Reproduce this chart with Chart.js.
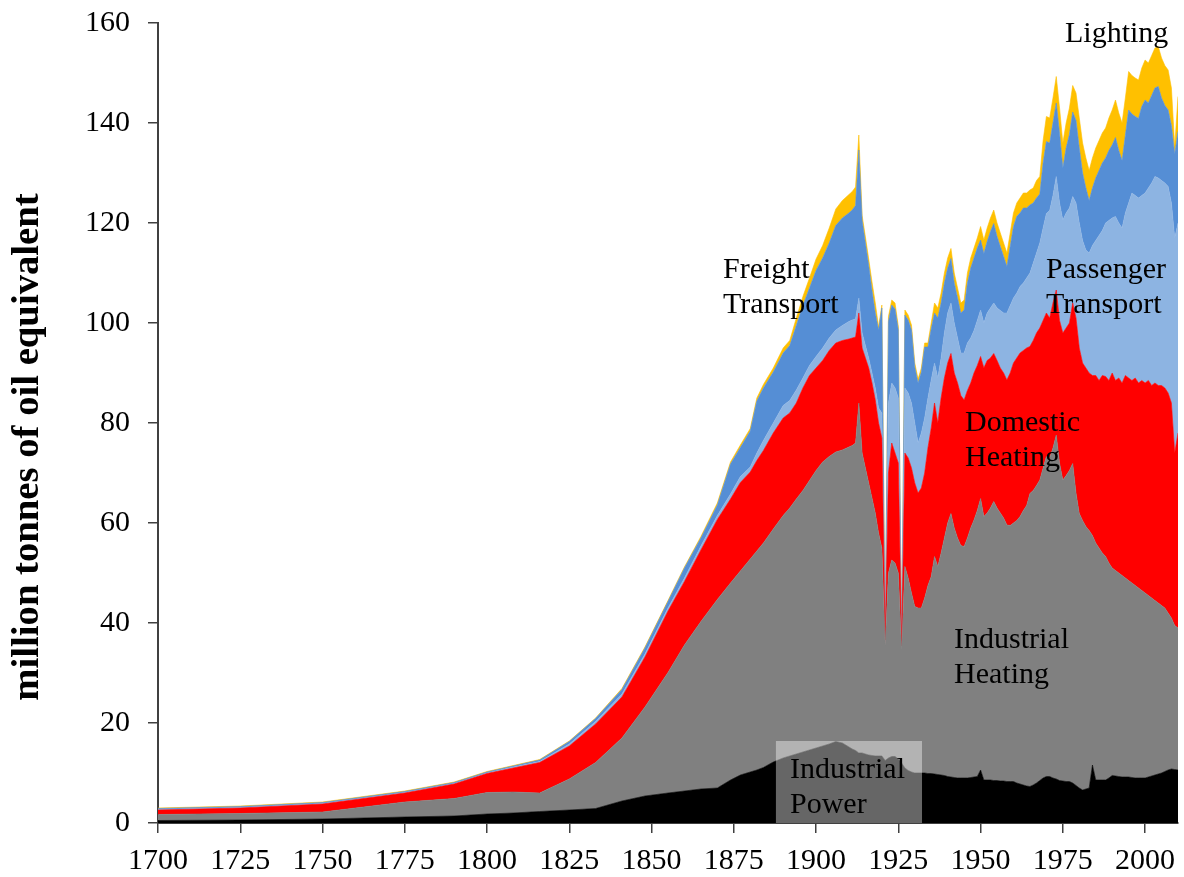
<!DOCTYPE html>
<html><head><meta charset="utf-8">
<script src="https://cdn.jsdelivr.net/npm/chart.js@4.4.1/dist/chart.umd.min.js"></script>
<style>html,body{margin:0;padding:0;background:#fff;}#wrap{width:1184px;height:877px;}</style>
</head><body><div id="wrap"><canvas id="c" width="1184" height="877"></canvas></div>
<script>
const years = [1700,1725,1750,1775,1790,1800,1808,1816,1825,1833,1841,1848,1855,1860,1865,1870,1874,1877,1880,1882,1884,1887,1890,1892,1894,1896,1898,1900,1902,1904,1906,1908,1910,1911,1912,
1913,1914,1915,1916,1917,1918,1919,1920,1921,1922,1923,1924,1925,1926,1927,1928,1929,1930,1931,1932,1933,1934,1935,
1936,1937,1938,1939,1940,1941,1942,1943,1944,1945,1946,1947,1948,1949,1950,1951,1952,1953,1954,1955,1956,1957,1958,1959,1960,
1961,1962,1963,1964,1965,1966,1967,1968,1969,1970,1971,1972,1973,1974,1975,1976,1977,1978,1979,1980,1981,1982,1983,1984,1985,
1986,1987,1988,1989,1990,1991,1992,1993,1994,1995,1996,1997,1998,1999,2000,2001,2002,2003,2004,2005,2006,2007,2008,2009,2010];

const industrialPower = [0.5,0.6,0.8,1.2,1.4,1.8,2.0,2.3,2.6,2.9,4.4,5.4,6.0,6.4,6.8,7.0,8.6,9.6,10.2,10.6,11.1,12.2,13.0,13.4,13.8,14.2,14.6,15.0,15.4,15.8,16.3,16.0,15.2,14.8,14.5,
14.0,14.0,13.8,13.6,13.5,13.4,13.4,13.4,12.5,13.0,13.3,13.3,12.8,12.0,11.0,10.5,10.2,10.0,10.0,10.0,10.0,9.9,9.9,
9.8,9.7,9.6,9.5,9.3,9.2,9.1,9.0,9.0,9.0,9.0,9.1,9.2,9.3,10.6,8.6,8.6,8.6,8.5,8.5,8.4,8.4,8.3,8.3,8.3,
8.0,7.8,7.6,7.4,7.3,7.6,8.0,8.5,9.0,9.3,9.3,9.0,8.8,8.5,8.4,8.3,8.3,8.0,7.5,7.0,6.6,6.8,7.0,11.6,8.6,
8.6,8.6,8.6,9.0,9.5,9.4,9.3,9.2,9.2,9.2,9.1,9.0,9.0,9.0,9.0,9.2,9.4,9.6,9.8,10.0,10.3,10.6,10.8,10.7,10.6];

const industrialHeating = [1.2,1.3,1.4,3.0,3.5,4.3,4.2,3.7,6.2,9.2,12.6,17.8,24.1,29.2,33.5,37.7,39.4,40.8,42.6,43.8,44.9,46.6,48.5,49.6,51.0,52.3,53.9,55.5,56.8,57.5,57.9,58.6,60.0,60.7,61.5,
70.0,60.0,57.2,54.4,51.5,48.6,44.6,41.6,23.0,37.0,39.3,38.7,37.2,22.6,40.3,38.5,35.8,33.3,33.0,33.0,35.0,37.6,39.4,
43.5,41.6,44.4,47.5,50.7,52.7,49.9,48.0,46.5,46.3,48.0,49.9,51.4,53.2,54.3,52.7,53.4,54.4,55.8,54.5,53.6,52.6,51.3,51.2,51.7,
52.5,53.5,54.9,56.1,58.6,58.9,59.5,60.1,62.0,64.0,63.7,66.0,68.8,63.5,60.2,61.2,62.2,63.9,58.5,54.9,53.9,52.5,51.5,45.9,47.4,
46.4,45.4,44.7,43.0,41.5,41.1,40.7,40.3,39.8,39.3,38.9,38.5,38.0,37.5,37.0,36.3,35.6,34.9,34.2,33.5,32.7,31.4,30.2,28.8,28.4];

const domesticHeating = [0.9,1.1,1.6,1.8,2.9,3.8,4.8,6.1,6.6,7.7,8.2,10.0,12.3,12.7,14.3,16.0,16.8,17.7,17.4,18.1,18.5,19.2,19.5,19.0,19.2,20.5,21.0,20.5,20.3,21.2,21.8,21.9,21.6,21.5,21.2,
18.0,21.0,22.0,23.0,23.0,22.6,22.0,22.0,1.1,20.0,23.4,22.0,22.0,0.8,22.7,24.0,25.0,24.7,23.0,24.0,25.0,27.5,29.7,
30.7,28.7,31.0,32.0,32.0,32.0,31.0,31.0,30.0,29.3,29.5,29.0,29.4,29.0,28.4,29.7,30.5,30.0,29.6,29.5,29.0,29.0,29.0,30.5,32.0,
32.5,32.7,32.0,31.5,29.4,30.0,30.5,30.4,29.5,28.7,28.0,29.0,29.0,28.5,29.4,29.5,29.5,32.1,35.0,33.1,31.5,31.7,31.5,32.0,33.5,
33.5,35.5,36.0,36.5,39.0,38.0,39.0,38.5,40.5,40.5,40.5,41.5,41.0,42.0,42.0,43.0,42.5,43.5,43.5,44.0,44.0,44.0,43.0,34.5,39.0];

const passengerTransport = [0.1,0.1,0.1,0.1,0.1,0.1,0.2,0.2,0.4,0.5,0.6,0.6,0.6,0.7,0.8,0.8,1.0,1.2,1.0,1.5,2.0,2.0,2.5,2.5,2.6,2.0,2.0,2.3,2.5,2.5,2.6,3.0,3.5,3.6,3.6,
3.0,3.0,2.5,2.0,2.0,2.4,3.0,5.0,0.6,14.0,12.0,13.0,13.0,0.5,13.0,13.0,13.0,12.0,10.0,11.0,11.0,10.0,9.6,
8.0,9.0,8.0,9.0,10.0,10.1,10.0,9.0,8.5,9.4,9.5,9.0,8.5,9.0,9.3,9.0,9.5,10.0,10.1,10.5,11.5,12.0,13.4,13.5,13.0,
13.0,13.3,13.5,14.0,14.7,15.5,16.0,17.0,18.5,19.9,21.5,21.5,22.7,23.5,22.6,23.0,23.0,21.3,23.0,25.0,24.5,23.6,24.0,26.0,27.0,
29.0,29.0,30.7,32.0,31.0,32.8,31.0,31.0,32.5,35.0,37.5,36.5,37.0,37.0,38.0,38.5,40.5,41.3,41.5,41.0,41.0,41.3,40.0,43.0,42.0];

const freightTransport = [0.2,0.2,0.2,0.2,0.2,0.2,0.2,0.3,0.5,0.6,0.9,1.2,1.3,2.0,1.6,2.1,6.0,5.8,7.2,10.4,10.5,10.2,10.5,11.0,12.9,14.5,15.5,17.2,18.0,19.0,20.9,21.5,21.7,22.0,22.7,
29.6,22.5,20.5,18.5,16.5,15.0,15.6,21.0,0.5,16.3,15.6,15.8,13.6,0.5,14.6,14.6,14.6,11.2,12.0,12.2,14.2,10.2,10.2,
10.0,12.0,11.0,10.0,9.0,8.9,8.0,8.0,8.0,8.6,12.0,14.0,14.5,14.5,14.0,13.9,14.3,15.3,15.9,14.3,12.8,11.3,9.3,11.8,14.3,
15.3,14.7,15.0,14.0,13.6,12.0,11.0,9.8,13.0,14.4,13.5,14.5,14.7,14.0,10.4,13.0,14.7,16.9,16.5,15.0,13.5,12.4,10.5,11.5,12.5,
13.0,13.5,13.0,14.0,14.6,15.8,14.5,13.5,15.5,18.6,15.8,15.8,15.9,17.8,18.6,17.0,17.5,17.7,18.3,16.5,15.5,15.3,15.5,16.8,18.3];

const lighting = [0.1,0.1,0.1,0.1,0.1,0.1,0.1,0.1,0.1,0.1,0.2,0.2,0.2,0.2,0.3,0.4,0.4,0.5,0.5,0.6,0.7,0.8,1.0,1.0,1.5,1.8,2.0,2.3,2.5,3.0,3.3,3.5,3.7,3.7,3.7,
3.0,1.0,1.2,1.3,1.7,2.0,0.6,0.6,0.3,1.0,1.0,1.2,0.7,0.3,1.0,1.0,1.0,0.8,0.8,0.8,0.8,0.8,1.2,
2.0,2.0,2.0,2.0,2.0,2.0,2.0,2.0,2.0,2.0,2.0,2.0,2.0,2.0,2.7,2.7,2.7,2.7,2.7,2.7,2.7,2.7,2.7,2.7,2.7,
2.7,3.0,3.0,3.0,3.0,3.0,3.5,3.5,4.5,5.0,5.0,5.0,5.3,5.0,5.0,5.0,5.3,5.3,5.5,6.0,6.0,6.0,6.0,6.0,6.0,
6.0,6.0,6.0,6.5,7.0,7.5,7.5,7.5,7.5,7.7,7.7,7.7,7.7,7.7,8.0,8.0,8.0,8.0,8.0,8.0,8.0,8.0,7.5,1.5,7.0];

const xTickValues = [1700,1725,1750,1775,1800,1825,1850,1875,1900,1925,1950,1975,2000];
const yTickValues = [0,20,40,60,80,100,120,140,160];

const seriesNames = ['Industrial Power','Industrial Heating','Domestic Heating','Passenger Transport','Freight Transport','Lighting'];
const seriesColors = ['#000000','#808080','#FF0000','#8DB4E2','#558ED5','#FFC000'];
const seriesValues = [industrialPower, industrialHeating, domesticHeating, passengerTransport, freightTransport, lighting];

const SERIF = '"Liberation Serif","Times New Roman",serif';

const datasets = seriesValues.map((vals, i) => ({
  label: seriesNames[i],
  data: vals,
  backgroundColor: seriesColors[i],
  borderColor: seriesColors[i],
  borderWidth: 0.6,
  pointRadius: 0,
  pointHoverRadius: 0,
  tension: 0,
  fill: i === 0 ? 'origin' : '-1',
  stack: 's'
}));

const annotationsPlugin = {
  id: 'annot',
  afterDatasetsDraw(chart) {
    const ctx = chart.ctx;
    const xs = chart.scales.x, ys = chart.scales.y;
    const bx0 = xs.getPixelForValue(1887.8), bx1 = xs.getPixelForValue(1932.2);
    const by0 = ys.getPixelForValue(16.4), by1 = ys.getPixelForValue(0);
    ctx.save();
    ctx.fillStyle = 'rgba(255,255,255,0.4)';
    ctx.fillRect(bx0, by0, bx1 - bx0, by1 - by0);
    ctx.restore();
  },
  afterDraw(chart) {
    const ctx = chart.ctx;
    ctx.save();
    ctx.fillStyle = '#000';
    ctx.font = '30px ' + SERIF;
    ctx.textAlign = 'left';
    ctx.textBaseline = 'alphabetic';
    const labels = [
      ['Lighting', 1065, 42],
      ['Freight', 723, 278], ['Transport', 723, 313],
      ['Passenger', 1046, 278], ['Transport', 1046, 313],
      ['Domestic', 965, 431], ['Heating', 965, 466],
      ['Industrial', 954, 648], ['Heating', 954, 683],
      ['Industrial', 790, 778], ['Power', 790, 813]
    ];
    labels.forEach(([t, x, y]) => ctx.fillText(t, x, y));
    ctx.translate(38, 447);
    ctx.rotate(-Math.PI / 2);
    ctx.textAlign = 'center';
    ctx.font = 'bold 38.7px ' + SERIF;
    ctx.fillText('million tonnes of oil equivalent', 0, 0);
    ctx.restore();
  }
};

new Chart(document.getElementById('c'), {
  type: 'line',
  data: { labels: years, datasets },
  options: {
    responsive: false,
    animation: false,
    devicePixelRatio: 1,
    layout: { padding: { top: 23, right: 6, left: 0, bottom: 0 } },
    plugins: { legend: { display: false }, tooltip: { enabled: false }, filler: { propagate: false } },
    elements: { line: { borderJoinStyle: 'miter' } },
    scales: {
      x: {
        type: 'linear', min: 1700, max: 2010,
        afterBuildTicks(scale) { scale.ticks = xTickValues.map(v => ({ value: v })); },
        afterFit(scale) { scale.height = 54; scale.paddingLeft = 0; scale.paddingRight = 0; },
        grid: { display: true, drawOnChartArea: false, drawTicks: true, tickLength: 10, color: '#404040', lineWidth: 1.5 },
        border: { display: true, color: '#404040', width: 2 },
        ticks: { autoSkip: false, maxRotation: 0, padding: 10, color: '#000', font: { family: SERIF, size: 30 }, callback: v => String(v) }
      },
      y: {
        stacked: true, min: 0, max: 160,
        afterBuildTicks(scale) { scale.ticks = yTickValues.map(v => ({ value: v })); },
        afterFit(scale) { scale.width = 158; scale.paddingTop = 0; scale.paddingBottom = 0; },
        grid: { display: true, drawOnChartArea: false, drawTicks: true, tickLength: 10, color: '#404040', lineWidth: 1.5 },
        border: { display: true, color: '#404040', width: 2 },
        ticks: { padding: 18, color: '#000', font: { family: SERIF, size: 30 }, callback: v => String(v) }
      }
    }
  },
  plugins: [annotationsPlugin]
});
</script>
</body></html>
